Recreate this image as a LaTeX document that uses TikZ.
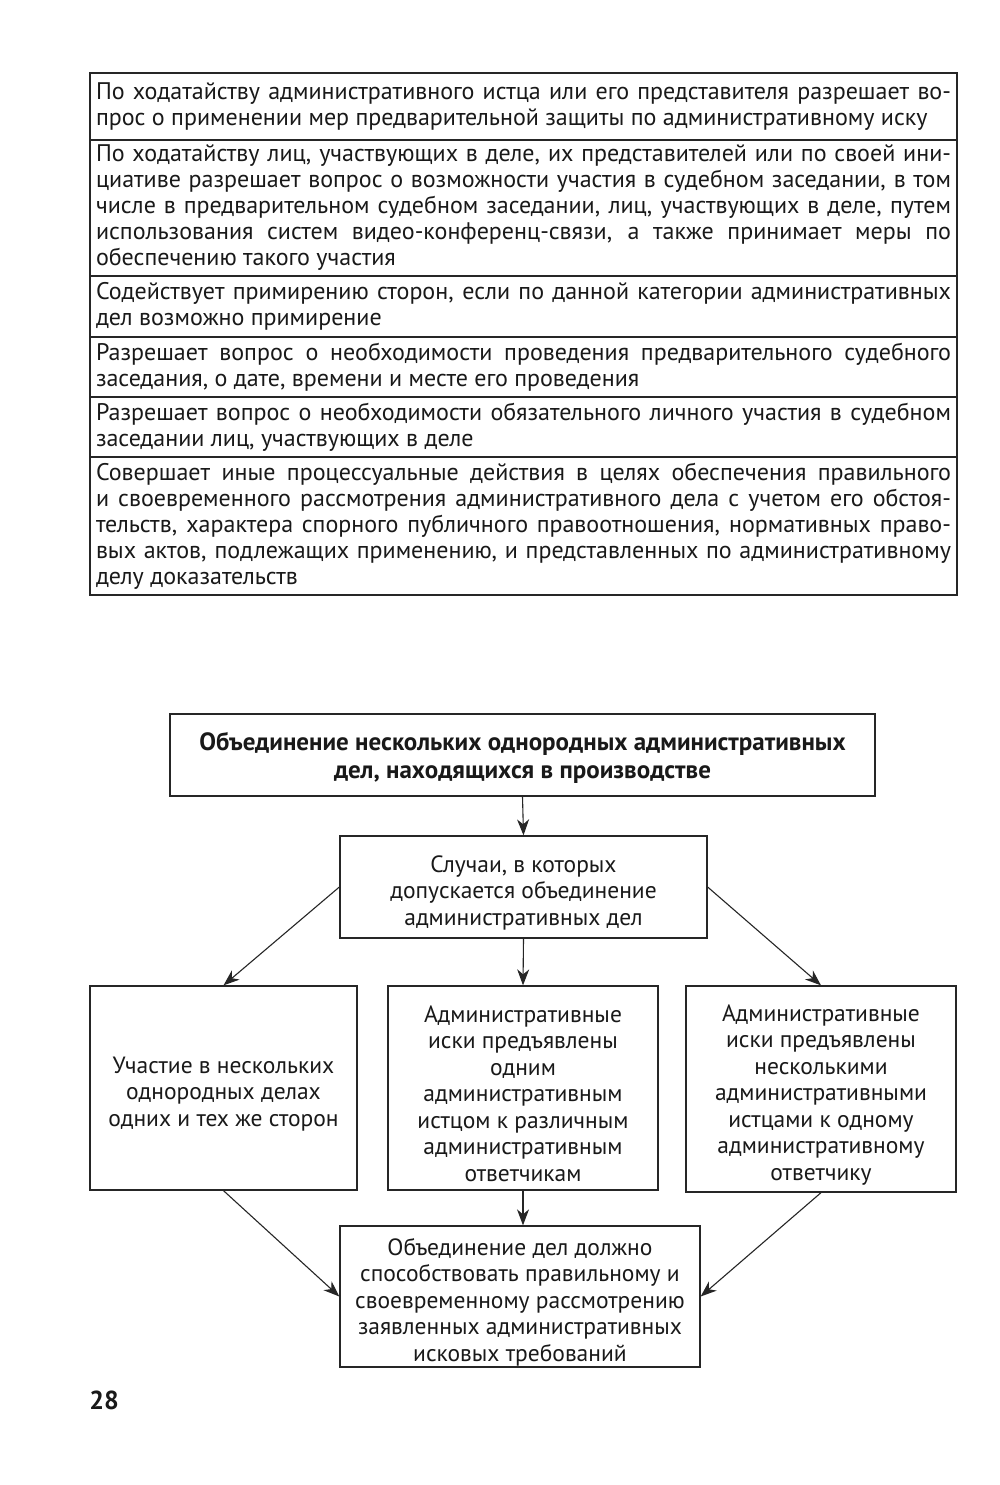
\documentclass[tikz,border=0pt]{standalone}
\usepackage{fontspec}
\setmainfont{PT Sans}
\usetikzlibrary{positioning,arrows.meta}

\tikzset{
  row/.style={draw=black!85, line width=1.3pt, anchor=north west,
    text width=855pt, inner xsep=6pt, inner ysep=0pt, outer sep=0pt,
    align=justify, text=black!90, font=\fontsize{24}{26}\selectfont},
  box/.style={draw=black!85, line width=1.3pt, align=center, inner sep=0pt,
    text=black!90, font=\fontsize{23.5}{26.5}\selectfont},
  arr/.style={-{Stealth[length=16pt,width=12pt,inset=5pt]}, line width=1.1pt, draw=black!85}
}
\newcommand\topgap{\rule{0pt}{28pt}}

\begin{document}
\begin{tikzpicture}[x=1pt,y=-1pt]
  \useasboundingbox[fill=white] (0,0) rectangle (1000,1485);

  % table of powers
  \node[row, minimum height=67pt] (r1) at (90,73)
    {По ходатайству административного истца или его представителя разрешает во-\linebreak
     прос о применении мер предварительной защиты по административному иску};
  \node[row, below=0pt of r1, minimum height=136pt] (r2)
    {По ходатайству лиц, участвующих в деле, их представителей или по своей ини-\linebreak
     циативе разрешает вопрос о возможности участия в судебном заседании, в том\linebreak
     числе в предварительном судебном заседании, лиц, участвующих в деле, путем\linebreak
     использования систем видео-конференц-связи, а также принимает меры по\linebreak
     обеспечению такого участия};
  \node[row, below=0pt of r2, minimum height=61pt] (r3)
    {Содействует примирению сторон, если по данной категории административных\linebreak
     дел возможно примирение};
  \node[row, below=0pt of r3, minimum height=60pt] (r4)
    {Разрешает вопрос о необходимости проведения предварительного судебного\linebreak
     заседания, о дате, времени и месте его проведения};
  \node[row, below=0pt of r4, minimum height=60pt] (r5)
    {Разрешает вопрос о необходимости обязательного личного участия в судебном\linebreak
     заседании лиц, участвующих в деле};
  \node[row, below=0pt of r5, minimum height=138pt] (r6)
    {Совершает иные процессуальные действия в целях обеспечения правильного\linebreak
     и своевременного рассмотрения административного дела с учетом его обстоя-\linebreak
     тельств, характера спорного публичного правоотношения, нормативных право-\linebreak
     вых актов, подлежащих применению, и представленных по административному\linebreak
     делу доказательств};

  % scheme
  \node[box, minimum width=705pt, minimum height=82pt,
    font=\bfseries\fontsize{25}{28}\selectfont] (joint) at (522.5,755)
    {\rule{0pt}{24pt}Объединение нескольких однородных административных\\
     дел, находящихся в производстве};
  \node[box, minimum width=367pt, minimum height=102pt] (cases) at (523.5,887)
    {\topgap Случаи, в которых\\ допускается объединение\\ административных дел};
  \node[box, minimum width=267pt, minimum height=204pt] (lft) at (223.5,1088)
    {\topgap Участие в нескольких\\ однородных делах\\ одних и тех же сторон};
  \node[box, minimum width=270pt, minimum height=204pt] (mid) at (523,1088)
    {\topgap Административные\\ иски предъявлены\\ одним\\ административным\\
     истцом к различным\\ административным\\ ответчикам};
  \node[box, minimum width=270pt, minimum height=206pt] (rgt) at (821,1089)
    {\topgap Административные\\ иски предъявлены\\ несколькими\\ административными\\
     истцами к одному\\ административному\\ ответчику};
  \node[box, minimum width=360pt, minimum height=141pt] (goal) at (520,1296.5)
    {\topgap Объединение дел должно\\ способствовать правильному и\\
     своевременному рассмотрению\\ заявленных административных\\
     исковых требований};

  \draw[arr] (joint.south) -- (cases.north);
  \draw[arr] (cases.west) -- (lft.north);
  \draw[arr] (cases.south) -- (mid.north);
  \draw[arr] (cases.east) -- (rgt.north);
  \draw[arr] (lft.south) -- (goal.west);
  \draw[arr] (mid.south) -- (mid.south |- goal.north);
  \draw[arr] (rgt.south) -- (goal.east);

  \node[font=\bfseries\fontsize{26}{26}\selectfont, text=black!90] (page) at (104,1400) {28};
\end{tikzpicture}
\end{document}
